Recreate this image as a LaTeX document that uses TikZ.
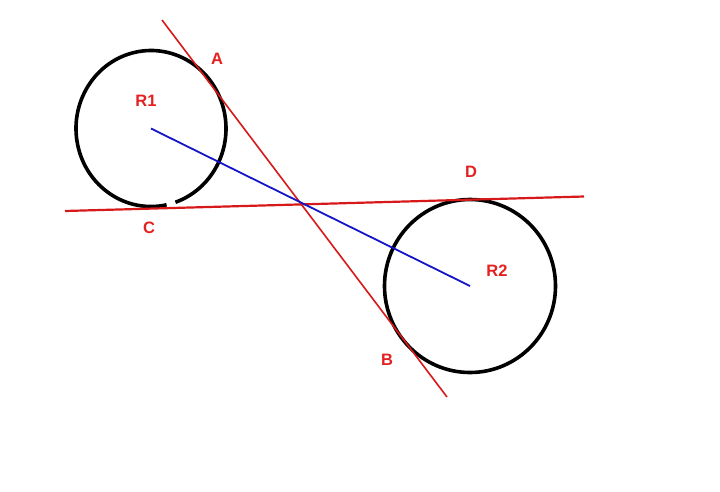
\documentclass[tikz,border=0pt]{standalone}
\usepackage{fontspec}
\setmainfont{Liberation Sans}
\definecolor{lblred}{RGB}{228,32,32}
\definecolor{linered}{RGB}{215,25,25}
\definecolor{lineblue}{RGB}{20,20,200}
\begin{document}
\begin{tikzpicture}[x=1pt,y=-1pt,
  lbl/.style={text=lblred,font=\fontsize{16.5}{18}\selectfont\bfseries,inner sep=0pt},
  ring/.style={draw=black,line width=3.6pt},
  redline/.style={draw=linered,line width=1.6pt},
  blueline/.style={draw=lineblue,line width=1.8pt}]
\useasboundingbox (0,0) rectangle (720,491);
\fill[white] (0,0) rectangle (720,491);
% endpoints
\coordinate (c1) at (151,128.5);
\coordinate (c2) at (470,286);
\coordinate (abTop) at (162,20);
\coordinate (abBot) at (447,397);
\coordinate (cdL) at (65,211);
\coordinate (cdR) at (584,196.5);
% circles
\draw[ring] (c1) ++(78:75 and 78) arc[start angle=78,end angle=431,x radius=75,y radius=78];
\draw[ring] (c2) ellipse[x radius=85.5,y radius=86.5];
% lines
\draw[redline] (abTop) -- (abBot);
\draw[redline,line width=2.2pt] (cdL) -- (cdR);
\draw[blueline] (c1) -- (c2);
% labels
\node[lbl] (A) at (217,59) {A};
\node[lbl] (R1) at (146,101) {R1};
\node[lbl] (C) at (149,228) {C};
\node[lbl] (D) at (471,172) {D};
\node[lbl] (R2) at (497,271) {R2};
\node[lbl] (B) at (387,360) {B};
\end{tikzpicture}
\end{document}
